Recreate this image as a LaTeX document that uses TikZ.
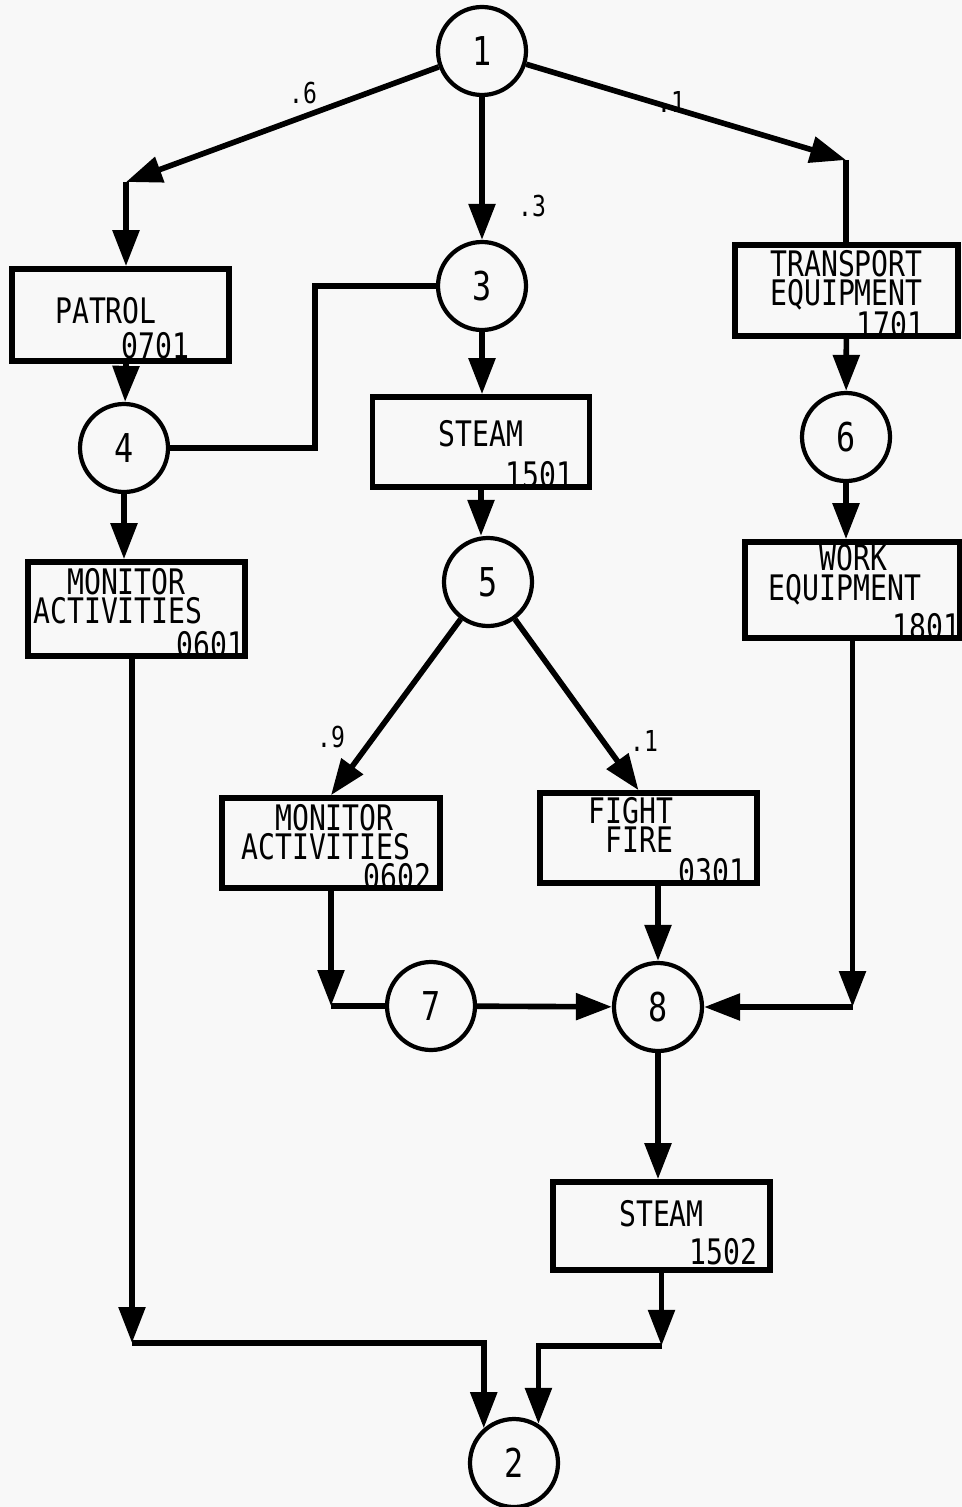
\documentclass[tikz,border=0pt]{standalone}
\usepackage{fontspec}
\newfontfamily\lpfont[FakeStretch=0.8]{DejaVu Sans Mono}
\usetikzlibrary{calc}
\usetikzlibrary{positioning}
\usetikzlibrary{arrows.meta}
\definecolor{paper}{RGB}{248,248,248}
\tikzstyle{statenode} = [draw, circle, line width=1.2pt, minimum size=0.88cm, inner sep=0, font=\lpfont\fontsize{11.3}{12}\selectfont]
\tikzstyle{actbox} = [draw, rectangle, line width=1.6pt, minimum width=2.17cm, minimum height=0.92cm, inner sep=0]
\tikzstyle{boxtext} = [inner sep=0, align=center, font=\lpfont\fontsize{10}{8.4}\selectfont]
\tikzstyle{codetext} = [inner sep=0, anchor=base east, font=\lpfont\fontsize{10}{10}\selectfont]
\tikzstyle{problabel} = [inner sep=0, font=\lpfont\fontsize{8.2}{9}\selectfont]
\tikzstyle{link} = [line width=1.6pt]
\tikzstyle{flow} = [link, -{Triangle[length=0.36cm, width=0.26cm]}]

\begin{document}
\begin{tikzpicture}
    \fill[paper] (0,0) rectangle (9.62,-15.07);
    \useasboundingbox (0,0) rectangle (9.62,-15.07);

    % states
    \node[statenode] (c1) at (4.82,-0.51) {1};
    \node[statenode] (c3) at ($(c1)+(0,-2.35)$) {3};
    \node[statenode] (c4) at (1.24,-4.48) {4};
    \node[statenode] (c5) at (4.88,-5.82) {5};
    \node[statenode] (c6) at (8.46,-4.37) {6};
    \node[statenode] (c7) at (4.31,-10.06) {7};
    \node[statenode] (c8) at (6.58,-10.07) {8};
    \node[statenode] (c2) at (5.14,-14.63) {2};

    % activities
    \node[actbox] (patrol) at (1.205,-3.15) {};
    \node[boxtext] (patrol_name) at ($(patrol)+(-0.145,0.04)$) {PATROL};
    \node[codetext] (patrol_code) at ($(patrol.south east)+(-0.42,0.05)$) {0701};

    \node[actbox, minimum height=0.90cm] (steam_a) at (4.81,-4.42) {};
    \node[boxtext] (steam_a_name) at ($(steam_a)+(0,0.08)$) {STEAM};
    \node[codetext] (steam_a_code) at ($(steam_a.south east)+(-0.18,0.02)$) {1501};

    \node[actbox, minimum width=2.23cm, minimum height=0.91cm] (transport) at (8.465,-2.905) {};
    \node[boxtext] (transport_name) at ($(transport)+(0,0.10)$) {TRANSPORT\\EQUIPMENT};
    \node[codetext] (transport_code) at ($(transport.south east)+(-0.36,0.01)$) {1701};

    \node[actbox, minimum width=2.15cm, minimum height=0.96cm] (work) at (8.525,-5.90) {};
    \node[boxtext, align=left] (work_name) at ($(work)+(-0.075,0.15)$) {\hphantom{MMM}WORK\\EQUIPMENT};
    \node[codetext] (work_code) at ($(work.south east)+(-0.02,0.01)$) {1801};

    \node[actbox, minimum height=0.94cm] (monitor_a) at (1.365,-6.09) {};
    \node[boxtext, align=left] (monitor_a_name) at ($(monitor_a)+(-0.185,0.13)$) {\hphantom{MM}MONITOR\\ACTIVITIES};
    \node[codetext] (monitor_a_code) at ($(monitor_a.south east)+(-0.03,0.01)$) {0601};

    \node[actbox, minimum width=2.18cm, minimum height=0.90cm] (monitor_b) at (3.31,-8.43) {};
    \node[boxtext, align=left] (monitor_b_name) at ($(monitor_b)+(-0.05,0.11)$) {\hphantom{MM}MONITOR\\ACTIVITIES};
    \node[codetext] (monitor_b_code) at ($(monitor_b.south east)+(-0.11,0.01)$) {0602};

    \node[actbox, minimum height=0.90cm] (fight) at (6.485,-8.38) {};
    \node[boxtext, align=right] (fight_name) at ($(fight)+(-0.175,0.13)$) {FIGHT\\FIRE};
    \node[codetext] (fight_code) at ($(fight.south east)+(-0.13,0.01)$) {0301};

    \node[actbox, minimum height=0.88cm] (steam_b) at (6.615,-12.26) {};
    \node[boxtext] (steam_b_name) at ($(steam_b)+(0,0.12)$) {STEAM};
    \node[codetext] (steam_b_code) at ($(steam_b.south east)+(-0.15,0.08)$) {1502};

    % probabilities
    \node[problabel] (p_patrol) at (3.03,-0.93) {.6};
    \node[problabel] (p_steam) at (5.32,-2.06) {.3};
    \node[problabel] (p_transport) at (6.71,-1.02) {.1};
    \node[problabel] (p_monitor) at (3.31,-7.37) {.9};
    \node[problabel] (p_fight) at (6.44,-7.41) {.1};

    % bends
    \coordinate (corner_l) at (1.26,-1.82);
    \coordinate (corner_r) at (8.46,-1.60);
    \coordinate (bend3) at ($(c4.east)+(1.45,0)$);
    \coordinate (bend7) at (monitor_b.south |- c7);
    \coordinate (bend8) at (work.south |- c8);
    \coordinate (join_l) at (1.32,-13.43);
    \coordinate (join_r) at ($(steam_b.south)+(0,-0.73)$);

    % connectors
    \draw[flow] (c1) -- (corner_l);
    \draw[flow] (corner_l) -- (corner_l |- patrol.north);
    \draw[flow] (c1) -- (c3);
    \draw[flow] (c1) -- (corner_r);
    \draw[link] (corner_r) -- (corner_r |- transport.north);
    \draw[flow] (patrol.south -| corner_l) -- (c4);
    \draw[link] (c3) -| (bend3) -- (c4);
    \draw[flow] (c3) -- (c3 |- steam_a.north);
    \draw[flow] (steam_a) -- (steam_a |- c5.north);
    \draw[flow] (transport) -- (c6);
    \draw[flow] (c6) -- (c6 |- work.north);
    \draw[flow] (c4) -- (c4 |- monitor_a.north);
    \draw[flow] (c5) -- (monitor_b.north);
    \draw[flow] (c5) -- ($(fight.north)+(-0.1,0)$);
    \draw[flow] (monitor_b) -- (bend7);
    \draw[link] (bend7) -- (c7);
    \draw[flow] (c7) -- (c8);
    \draw[flow] (fight.south -| c8) -- (c8);
    \draw[flow] (work) -- (bend8);
    \draw[flow] (bend8) -- (c8);
    \draw[flow] (c8) -- (c8 |- steam_b.north);
    \draw[flow] (steam_b) -- (join_r);
    \draw[flow] (join_r) -| (c2.58);
    \draw[flow] (monitor_a.south -| join_l) -- (join_l);
    \draw[flow] (join_l) -| (c2.131);
\end{tikzpicture}
\end{document}
